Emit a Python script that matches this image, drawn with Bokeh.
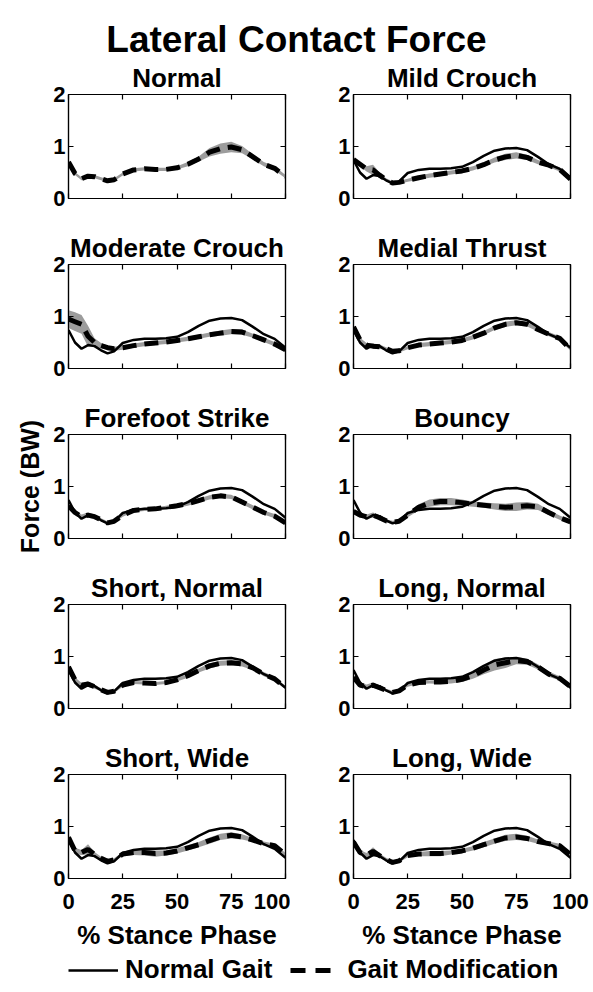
from bokeh.plotting import figure
from bokeh.models import (Range1d, LinearAxis, FixedTicker, CustomJSTickFormatter,
                          Legend, LegendItem, Div)
from bokeh.layouts import column, row
from bokeh.embed import file_html
from bokeh.resources import INLINE

# ---------------- data ----------------
stance_pct = [0, 3, 6, 9, 12, 15, 18, 21, 25, 30, 35, 40, 45, 50, 55, 60, 65, 70, 75, 80, 85, 90, 95, 100]

normal_gait = [0.74, 0.50, 0.38, 0.45, 0.43, 0.35, 0.29, 0.33, 0.49, 0.55, 0.57, 0.57, 0.58, 0.61,
               0.70, 0.82, 0.92, 0.96, 0.97, 0.93, 0.80, 0.66, 0.57, 0.40]

panel_titles = ["Normal", "Mild Crouch", "Moderate Crouch", "Medial Thrust", "Forefoot Strike",
                "Bouncy", "Short, Normal", "Long, Normal", "Short, Wide", "Long, Wide"]

mod_normal = [0.70, 0.48, 0.38, 0.43, 0.42, 0.38, 0.34, 0.36, 0.47, 0.55, 0.57, 0.56, 0.56, 0.59,
              0.66, 0.76, 0.89, 0.96, 0.99, 0.94, 0.80, 0.66, 0.58, 0.42]
mod_mild = [0.75, 0.66, 0.57, 0.55, 0.45, 0.36, 0.30, 0.31, 0.35, 0.40, 0.44, 0.47, 0.50, 0.53,
            0.58, 0.65, 0.74, 0.80, 0.83, 0.79, 0.70, 0.64, 0.56, 0.37]
mod_moderate = [0.95, 0.90, 0.85, 0.62, 0.50, 0.44, 0.40, 0.38, 0.40, 0.44, 0.47, 0.49, 0.51, 0.54,
                0.57, 0.61, 0.65, 0.68, 0.71, 0.70, 0.63, 0.55, 0.47, 0.36]
mod_medial = [0.80, 0.55, 0.45, 0.43, 0.42, 0.38, 0.33, 0.34, 0.40, 0.45, 0.47, 0.49, 0.51, 0.54,
              0.60, 0.68, 0.78, 0.85, 0.88, 0.85, 0.75, 0.66, 0.58, 0.37]
mod_forefoot = [0.63, 0.50, 0.42, 0.45, 0.42, 0.36, 0.30, 0.33, 0.45, 0.54, 0.56, 0.57, 0.60, 0.63,
                0.67, 0.73, 0.79, 0.82, 0.80, 0.70, 0.60, 0.50, 0.43, 0.30]
mod_bouncy = [0.52, 0.45, 0.42, 0.45, 0.40, 0.34, 0.31, 0.33, 0.45, 0.60, 0.68, 0.71, 0.71, 0.69,
              0.66, 0.64, 0.62, 0.60, 0.61, 0.63, 0.61, 0.50, 0.40, 0.32]
mod_short_normal = [0.80, 0.55, 0.45, 0.47, 0.42, 0.36, 0.31, 0.33, 0.45, 0.50, 0.49, 0.48, 0.50, 0.55,
                    0.63, 0.73, 0.82, 0.87, 0.88, 0.86, 0.78, 0.66, 0.57, 0.40]
mod_long_normal = [0.60, 0.45, 0.42, 0.45, 0.40, 0.35, 0.31, 0.34, 0.45, 0.50, 0.51, 0.51, 0.52, 0.56,
                   0.63, 0.74, 0.84, 0.88, 0.92, 0.90, 0.80, 0.66, 0.58, 0.42]
mod_short_wide = [0.79, 0.53, 0.50, 0.56, 0.46, 0.39, 0.33, 0.36, 0.47, 0.50, 0.50, 0.48, 0.49, 0.53,
                  0.59, 0.65, 0.73, 0.80, 0.83, 0.80, 0.74, 0.67, 0.63, 0.46]
mod_long_wide = [0.70, 0.50, 0.45, 0.52, 0.44, 0.37, 0.31, 0.34, 0.44, 0.47, 0.48, 0.48, 0.50, 0.53,
                 0.58, 0.65, 0.72, 0.78, 0.80, 0.77, 0.71, 0.67, 0.63, 0.46]

sd_normal = [0.03, 0.03, 0.03, 0.04, 0.03, 0.03, 0.03, 0.03, 0.03, 0.03, 0.03, 0.03, 0.03, 0.03,
             0.04, 0.05, 0.08, 0.10, 0.10, 0.07, 0.05, 0.04, 0.04, 0.03]
sd_mild = [0.03, 0.04, 0.05, 0.10, 0.05, 0.03, 0.03, 0.03, 0.03, 0.04, 0.04, 0.04, 0.04, 0.04,
           0.04, 0.04, 0.05, 0.06, 0.06, 0.05, 0.04, 0.04, 0.04, 0.03]
sd_moderate = [0.17, 0.18, 0.18, 0.20, 0.08, 0.05, 0.04, 0.04, 0.04, 0.04, 0.04, 0.04, 0.04, 0.04,
               0.04, 0.04, 0.04, 0.05, 0.05, 0.05, 0.04, 0.04, 0.04, 0.04]
sd_medial = [0.04, 0.04, 0.04, 0.05, 0.04, 0.03, 0.03, 0.03, 0.03, 0.04, 0.04, 0.04, 0.04, 0.04,
             0.04, 0.04, 0.04, 0.05, 0.05, 0.04, 0.04, 0.04, 0.04, 0.03]
sd_forefoot = [0.04, 0.04, 0.04, 0.05, 0.04, 0.03, 0.03, 0.03, 0.03, 0.03, 0.03, 0.03, 0.03, 0.04,
               0.04, 0.04, 0.04, 0.04, 0.04, 0.04, 0.04, 0.04, 0.04, 0.03]
sd_bouncy = [0.05, 0.05, 0.04, 0.05, 0.04, 0.03, 0.03, 0.03, 0.04, 0.06, 0.07, 0.07, 0.07, 0.06,
             0.05, 0.05, 0.06, 0.07, 0.08, 0.07, 0.06, 0.05, 0.04, 0.03]
sd_short_normal = [0.05, 0.05, 0.04, 0.05, 0.04, 0.03, 0.03, 0.03, 0.03, 0.03, 0.03, 0.03, 0.03, 0.03,
                   0.04, 0.04, 0.05, 0.05, 0.05, 0.05, 0.04, 0.04, 0.04, 0.03]
sd_long_normal = [0.05, 0.05, 0.04, 0.05, 0.04, 0.03, 0.03, 0.03, 0.03, 0.03, 0.03, 0.04, 0.04, 0.05,
                  0.06, 0.08, 0.11, 0.10, 0.07, 0.06, 0.05, 0.05, 0.04, 0.03]
sd_short_wide = [0.06, 0.06, 0.05, 0.10, 0.05, 0.03, 0.03, 0.03, 0.04, 0.05, 0.06, 0.06, 0.05, 0.05,
                 0.05, 0.05, 0.06, 0.06, 0.06, 0.05, 0.04, 0.04, 0.04, 0.03]
sd_long_wide = [0.05, 0.05, 0.04, 0.08, 0.04, 0.03, 0.03, 0.03, 0.03, 0.04, 0.05, 0.05, 0.04, 0.04,
                0.04, 0.05, 0.05, 0.06, 0.06, 0.05, 0.04, 0.04, 0.04, 0.03]

mods = [mod_normal, mod_mild, mod_moderate, mod_medial, mod_forefoot, mod_bouncy,
        mod_short_normal, mod_long_normal, mod_short_wide, mod_long_wide]
sds = [sd_normal, sd_mild, sd_moderate, sd_medial, sd_forefoot, sd_bouncy,
       sd_short_normal, sd_long_normal, sd_short_wide, sd_long_wide]

x_ticks = [0, 25, 50, 75, 100]
y_ticks = [0, 1, 2]

# ---------------- styling ----------------
FONT = "Liberation Sans"
BAND = "#9c9c9c"
DASH = "14 8"


def style_axis(ax, ticks, show_labels, size):
    ax.ticker = FixedTicker(ticks=ticks)
    ax.major_tick_in = 5
    ax.major_tick_out = 0
    ax.minor_tick_line_color = None
    ax.axis_line_color = "black"
    ax.axis_line_width = 1.2
    ax.major_tick_line_color = "black"
    ax.major_tick_line_width = 1.2
    if show_labels:
        ax.major_label_text_font = FONT
        ax.major_label_text_font_style = "bold"
        ax.major_label_text_font_size = size
        ax.major_label_text_color = "black"
    else:
        ax.formatter = CustomJSTickFormatter(code="return ''")
        ax.major_label_standoff = 0


def make_panel(i):
    left_col = (i % 2 == 0)
    bottom_row = (i >= 8)
    w = 290 if left_col else 303
    h = 220 if bottom_row else 170
    p = figure(width=w, height=h, x_range=Range1d(0, 100), y_range=Range1d(0, 2),
               output_backend="svg", toolbar_location=None,
               x_axis_type=None, y_axis_type=None,
               min_border_left=68 if left_col else 63,
               min_border_right=5 if left_col else 23,
               min_border_top=40, min_border_bottom=76 if bottom_row else 26,
               title=panel_titles[i])
    p.title.align = "center"
    p.title.text_font = FONT
    p.title.text_font_style = "bold"
    p.title.text_font_size = "26px"
    p.title.text_color = "black"
    p.title.standoff = 3
    p.outline_line_color = "black"
    p.outline_line_width = 1.2
    p.background_fill_color = "white"
    p.border_fill_color = "white"

    xb = LinearAxis()
    style_axis(xb, x_ticks, bottom_row, "22px")
    if bottom_row:
        xb.major_label_standoff = 15
        xb.axis_label = "% Stance Phase"
        xb.axis_label_text_font = FONT
        xb.axis_label_text_font_style = "bold"
        xb.axis_label_text_font_size = "26px"
        xb.axis_label_text_color = "black"
        xb.axis_label_standoff = 8
    p.add_layout(xb, "below")

    yl = LinearAxis()
    style_axis(yl, y_ticks, True, "22px")
    yl.major_label_standoff = 3
    if i == 4:
        yl.axis_label = "Force (BW)"
        yl.axis_label_text_font = FONT
        yl.axis_label_text_font_style = "bold"
        yl.axis_label_text_font_size = "25px"
        yl.axis_label_text_color = "black"
        yl.axis_label_standoff = 6
    p.add_layout(yl, "left")

    xt = LinearAxis()
    style_axis(xt, x_ticks, False, "1px")
    p.add_layout(xt, "above")
    yr = LinearAxis()
    style_axis(yr, y_ticks, False, "1px")
    p.add_layout(yr, "right")

    mod = mods[i]
    sd = sds[i]
    lower = [m - s for m, s in zip(mod, sd)]
    upper = [m + s for m, s in zip(mod, sd)]
    p.varea(x=stance_pct, y1=lower, y2=upper, fill_color=BAND)
    if i != 0:
        p.line(stance_pct, normal_gait, line_width=2.5, line_color="black")
    p.line(stance_pct, mod, line_width=5, line_color="black", line_dash=DASH)
    return p


panels = [make_panel(i) for i in range(10)]

title_div = Div(text='<div style="font-family:\'Liberation Sans\';font-size:37px;font-weight:bold;'
                     'text-align:center;line-height:37px;padding-top:21px;width:593px;color:black;">'
                     'Lateral Contact Force</div>',
                width=593, height=54, margin=0)

# legend strip: the two series drawn outside the visible x-range, only their legend swatches show
lp = figure(width=593, height=36, x_range=Range1d(-20, -10), y_range=Range1d(0, 2),
            output_backend="svg", toolbar_location=None, x_axis_type=None, y_axis_type=None,
            min_border=0, outline_line_color=None)
r1 = lp.line(stance_pct, normal_gait, line_width=2.5, line_color="black")
r2 = lp.line(stance_pct, mod_normal, line_width=5, line_color="black", line_dash="15 10")
legend = Legend(items=[LegendItem(label="Normal Gait", renderers=[r1]),
                       LegendItem(label="Gait Modification", renderers=[r2])],
                orientation="horizontal", location=(68, 5), margin=0, padding=0,
                border_line_color=None, background_fill_alpha=0,
                glyph_width=50, glyph_height=28, label_height=28, label_standoff=7, spacing=18,
                label_text_font=FONT, label_text_font_style="bold", label_text_font_size="26px",
                label_text_color="black")
lp.add_layout(legend)

rows = [row(panels[k], panels[k + 1], spacing=0) for k in range(0, 10, 2)]
layout = column(title_div, *rows, lp, spacing=0)

open("out.html", "w").write(file_html(layout, INLINE))
